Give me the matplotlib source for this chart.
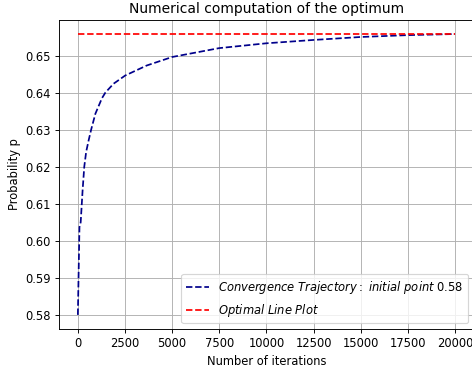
import matplotlib
matplotlib.use("Agg")
import matplotlib.pyplot as plt

# values
iterations = [0, 85, 150, 250, 340, 440, 580, 705, 930, 1280, 1460, 1895, 2510,
              3650, 5000, 6460, 7500, 10000, 12500, 15000, 17500, 20000]
probability = [0.5800, 0.6037, 0.6050, 0.6135, 0.6200, 0.6240, 0.6273, 0.6300,
               0.6343, 0.6385, 0.6400, 0.6424, 0.6446, 0.6473, 0.6496, 0.6510,
               0.6520, 0.6533, 0.6542, 0.6550, 0.6555, 0.6558]
optimum = 0.6558
initial_point = 0.58

dpi = 83
fig, ax = plt.subplots(figsize=(472 / dpi, 370 / dpi), dpi=dpi)

ax.plot(iterations, probability, color='darkblue', linestyle='--',
        label=r'$Convergence\ Trajectory:\ initial\ point$ ' + str(initial_point))
ax.plot([iterations[0], iterations[-1]], [optimum, optimum], color='red', linestyle='--',
        label=r'$Optimal\ Line\ Plot$')

ax.set_title("Numerical computation of the optimum")
ax.set_xlabel("Number of iterations")
ax.set_ylabel("Probability p")
ax.grid(True)
ax.legend(loc='lower right')

# axes run just past the right edge, as in the reference
fig.subplots_adjust(left=0.125, right=1.004, top=0.946, bottom=0.111)
fig.savefig("out.png", dpi=dpi)
